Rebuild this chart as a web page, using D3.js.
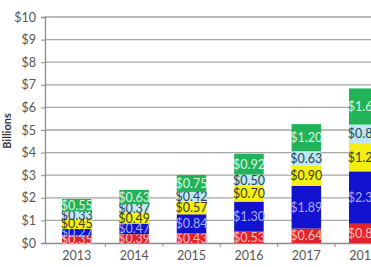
<!DOCTYPE html>
<html><head><meta charset="utf-8">
<script src="https://cdn.jsdelivr.net/npm/d3@7"></script>
<style>html,body{margin:0;padding:0;background:#fff;overflow:hidden}</style>
</head><body><svg id="c" width="371" height="267"></svg>
<script>
const years = ["2013","2014","2015","2016","2017","2018"];
const seriesNames = ["red","blue","yellow","lightblue","green"];
const red       = [0.35, 0.39, 0.43, 0.53, 0.64, 0.85];
const blue      = [0.27, 0.47, 0.84, 1.30, 1.89, 2.32];
const yellow    = [0.45, 0.49, 0.57, 0.70, 0.90, 1.25];
const lightblue = [0.33, 0.37, 0.42, 0.50, 0.63, 0.82];
const green     = [0.55, 0.63, 0.75, 0.92, 1.20, 1.60];
const yTicks = [0,1,2,3,4,5,6,7,8,9,10];

const fills = {red:"#e3232a", blue:"#1212d0", yellow:"#f4ee12", lightblue:"#bde8ef", green:"#22b257"};
const textFill = {red:"#f8c0c0", blue:"#a8b0f4", yellow:"#3a3a28", lightblue:"#2e4150", green:"#dcf5e4"};

const seriesData = {red, blue, yellow, lightblue, green};
const rows = years.map((yr,i)=>{ const r={year:yr}; seriesNames.forEach(s=>r[s]=seriesData[s][i]); return r; });

const svg = d3.select("#c");
const mLeft = 45, mTop = 17, mBottom = 243;
const step = 57.4, pI = 0.486, pO = 0.296;
const x = d3.scaleBand().domain(years)
  .range([mLeft, mLeft + step*(years.length - pI + 2*pO)])
  .paddingInner(pI).paddingOuter(pO);
const y = d3.scaleLinear().domain([0,10]).range([mBottom, mTop]);
const FONT = "Lato, 'DejaVu Sans', sans-serif";

// gridlines
svg.append("g").selectAll("line").data(yTicks.filter(d=>d>0)).join("line")
  .attr("x1", mLeft).attr("x2", 371).attr("y1", d=>y(d)).attr("y2", d=>y(d))
  .attr("stroke", "#a6a6a6").attr("stroke-width", 1.3);

// y axis
const yAxis = svg.append("g").attr("transform", `translate(${mLeft},0)`)
  .call(d3.axisLeft(y).tickValues(yTicks).tickSize(4).tickFormat(d=>"$"+d));
yAxis.select(".domain").attr("stroke","#8c8c8c").attr("stroke-width",1.3);
yAxis.selectAll(".tick line").attr("stroke","#8c8c8c");
yAxis.selectAll("text").attr("fill","#555").attr("font-family",FONT).attr("font-size",12.5).attr("dx",-2);

// x axis
const xAxis = svg.append("g").attr("transform", `translate(0,${mBottom})`)
  .call(d3.axisBottom(x).tickSize(0).tickPadding(8));
xAxis.select(".domain").attr("stroke","#8c8c8c").attr("stroke-width",1.3);
xAxis.selectAll("text").attr("fill","#555").attr("font-family",FONT).attr("font-size",12.5);
// boundary ticks
svg.append("g").selectAll("line").data(years.slice(1)).join("line")
  .attr("x1", d=>x(d) - x.step()*x.paddingInner()/2).attr("x2", d=>x(d) - x.step()*x.paddingInner()/2)
  .attr("y1", mBottom).attr("y2", mBottom+4).attr("stroke","#8c8c8c");

// stacked bars
const stack = d3.stack().keys(seriesNames)(rows);
const layers = svg.append("g").selectAll("g").data(stack).join("g");
layers.selectAll("rect").data(d=>d.map(v=>({key:d.key, v}))).join("rect")
  .attr("x", d=>x(d.v.data.year)).attr("width", x.bandwidth())
  .attr("y", d=>y(d.v[1])).attr("height", d=>y(d.v[0])-y(d.v[1]))
  .attr("fill", d=>fills[d.key]);
layers.selectAll("text").data(d=>d.map(v=>({key:d.key, v}))).join("text")
  .attr("x", d=>x(d.v.data.year)+x.bandwidth()/2)
  .attr("y", d=>(y(d.v[0])+y(d.v[1]))/2)
  .attr("dy","0.36em").attr("text-anchor","middle")
  .attr("font-family",FONT).attr("font-size",12.5)
  .attr("fill", d=>textFill[d.key])
  .text(d=>"$"+d.v.data[d.key].toFixed(2));

// y label
svg.append("text").attr("transform","translate(11,131) rotate(-90)")
  .attr("text-anchor","middle").attr("font-family",FONT)
  .attr("font-weight","bold").attr("font-size",11).attr("fill","#333").text("Billions");
</script></body></html>
